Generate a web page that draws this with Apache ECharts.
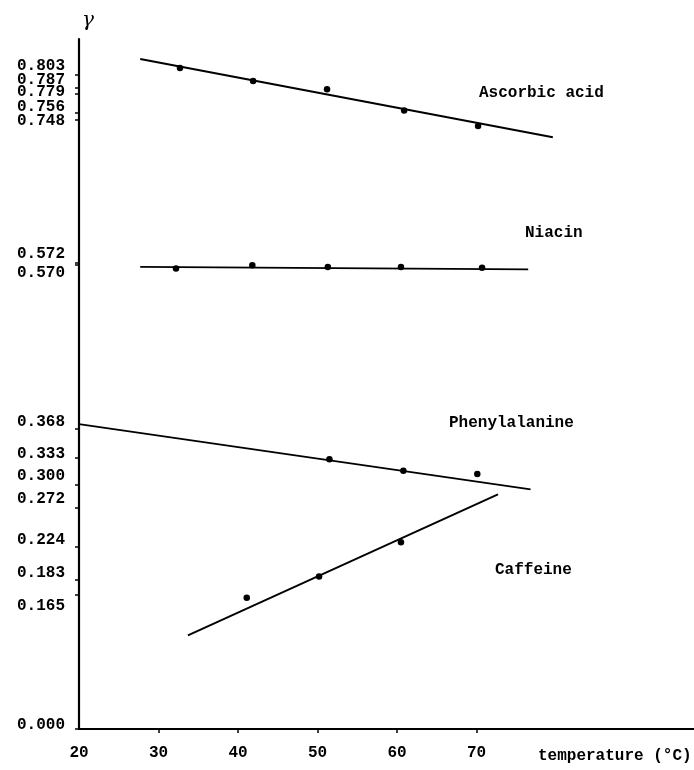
<!DOCTYPE html>
<html><head><meta charset="utf-8">
<script src="https://cdn.jsdelivr.net/npm/echarts@6/dist/echarts.min.js"></script>
<style>html,body{margin:0;padding:0;background:#fff}#c{width:694px;height:770px}</style>
</head><body><div id="c"></div>
<script>
// ---- data ----
const xTickLabels = ['20', '30', '40', '50', '60', '70'];
const yTickLabels = ['0.000', '0.165', '0.183', '0.224', '0.272', '0.300', '0.333', '0.368',
                     '0.570', '0.572', '0.748', '0.756', '0.779', '0.787', '0.803'];
const seriesNames = ['Ascorbic acid', 'Niacin', 'Phenylalanine', 'Caffeine'];

const ascorbicT = [32.7, 41.9, 51.2, 60.9, 70.2];
const ascorbicG = [0.811, 0.795, 0.785, 0.759, 0.740];
const ascorbicLineT = [27.7, 79.6];
const ascorbicLineG = [0.822, 0.726];

const niacinT = [32.2, 41.8, 51.3, 60.5, 70.7];
const niacinG = [0.565, 0.569, 0.567, 0.567, 0.566];
const niacinLineT = [27.7, 76.5];
const niacinLineG = [0.567, 0.564];

const phenylT = [51.5, 60.8, 70.1];
const phenylG = [0.331, 0.317, 0.313];
const phenylLineT = [20.0, 76.8];
const phenylLineG = [0.374, 0.294];

const caffeineT = [41.1, 50.2, 60.5];
const caffeineG = [0.161, 0.187, 0.229];
const caffeineLineT = [33.7, 72.7];
const caffeineLineG = [0.115, 0.288];

// ---- styling ----
const FONT = 'Liberation Mono';
const Y_MAX = 0.8466;
const yTickValues = yTickLabels.map(Number);
const xTickValues = xTickLabels.map(Number);
const yLabelNudge = [-4, 11, -7, -6, -8, -9, -4, -7, 9, -9, 2, -6, -2, -8, -9]; // px, label placement style
const rich = {};
yLabelNudge.forEach((d, i) => {
  rich['k' + i] = {
    fontFamily: FONT, fontSize: 16, fontWeight: 'bold', color: '#000',
    padding: d < 0 ? [0, 0, -2 * d, 0] : [2 * d, 0, 0, 0]
  };
});
const zip = (a, b) => a.map((v, i) => [v, b[i]]);

const lineSeries = (name, t, g) => ({
  name, type: 'line', data: zip(t, g), symbol: 'none',
  lineStyle: { color: '#000', width: 1.9 }, silent: true, z: 2
});
const dotSeries = (name, t, g) => ({
  name: name + ' points', type: 'scatter', data: zip(t, g), symbol: 'circle', symbolSize: 6.5,
  itemStyle: { color: '#000', opacity: 1 }, silent: true, z: 3
});

const chart = echarts.init(document.getElementById('c'), null, { renderer: 'canvas' });
const textStyle = { fontFamily: FONT, fontSize: 16, fontWeight: 'bold', color: '#000' };
const annot = (text, x, y) => ({
  type: 'text', x, y, silent: true,
  style: { text, fill: '#000', font: 'bold 16px "' + FONT + '"', align: 'left', verticalAlign: 'middle',
           textAlign: 'left', textVerticalAlign: 'middle' }
});

chart.setOption({
  animation: false,
  backgroundColor: '#fff',
  grid: { left: 79, right: 0, top: 39, bottom: 41, containLabel: false, outerBoundsMode: 'none' },
  xAxis: {
    type: 'value', min: 20, max: 97.36,
    splitLine: { show: false },
    axisLine: { show: true, onZero: false, lineStyle: { color: '#000', width: 2.2 } },
    axisTick: { show: true, length: 4, inside: false, customValues: xTickValues.slice(1),
                lineStyle: { color: '#000', width: 1.5 } },
    axisLabel: { show: true, customValues: xTickValues, margin: 16, showMinLabel: true, showMaxLabel: true,
                 formatter: v => xTickLabels[xTickValues.indexOf(v)] ?? '', ...textStyle }
  },
  yAxis: {
    type: 'value', min: 0, max: Y_MAX,
    name: 'γ', nameLocation: 'end', nameGap: 8,
    nameTextStyle: { fontFamily: 'DejaVu Serif', fontSize: 20, fontStyle: 'italic', color: '#000', padding: [0, 0, 0, 18] },
    splitLine: { show: false },
    axisLine: { show: true, onZero: false, lineStyle: { color: '#000', width: 2.2 } },
    axisTick: { show: true, length: 4, inside: false, customValues: yTickValues,
                lineStyle: { color: '#000', width: 1.5 } },
    axisLabel: {
      show: true, customValues: yTickValues.concat([Y_MAX]), margin: 14, showMinLabel: true, showMaxLabel: true,
      hideOverlap: false, ...textStyle, rich,
      formatter: v => {
        const i = yTickValues.findIndex(t => Math.abs(t - v) < 1e-9);
        return i < 0 ? '' : '{k' + i + '|' + yTickLabels[i] + '}';
      }
    }
  },
  graphic: [
    annot(seriesNames[0], 479, 93),
    annot(seriesNames[1], 525, 233),
    annot(seriesNames[2], 449, 423),
    annot(seriesNames[3], 495, 570),
    annot('temperature (°C)', 538, 756)
  ],
  series: [
    lineSeries(seriesNames[0], ascorbicLineT, ascorbicLineG),
    dotSeries(seriesNames[0], ascorbicT, ascorbicG),
    lineSeries(seriesNames[1], niacinLineT, niacinLineG),
    dotSeries(seriesNames[1], niacinT, niacinG),
    lineSeries(seriesNames[2], phenylLineT, phenylLineG),
    dotSeries(seriesNames[2], phenylT, phenylG),
    lineSeries(seriesNames[3], caffeineLineT, caffeineLineG),
    dotSeries(seriesNames[3], caffeineT, caffeineG)
  ]
});
</script>
</body></html>
